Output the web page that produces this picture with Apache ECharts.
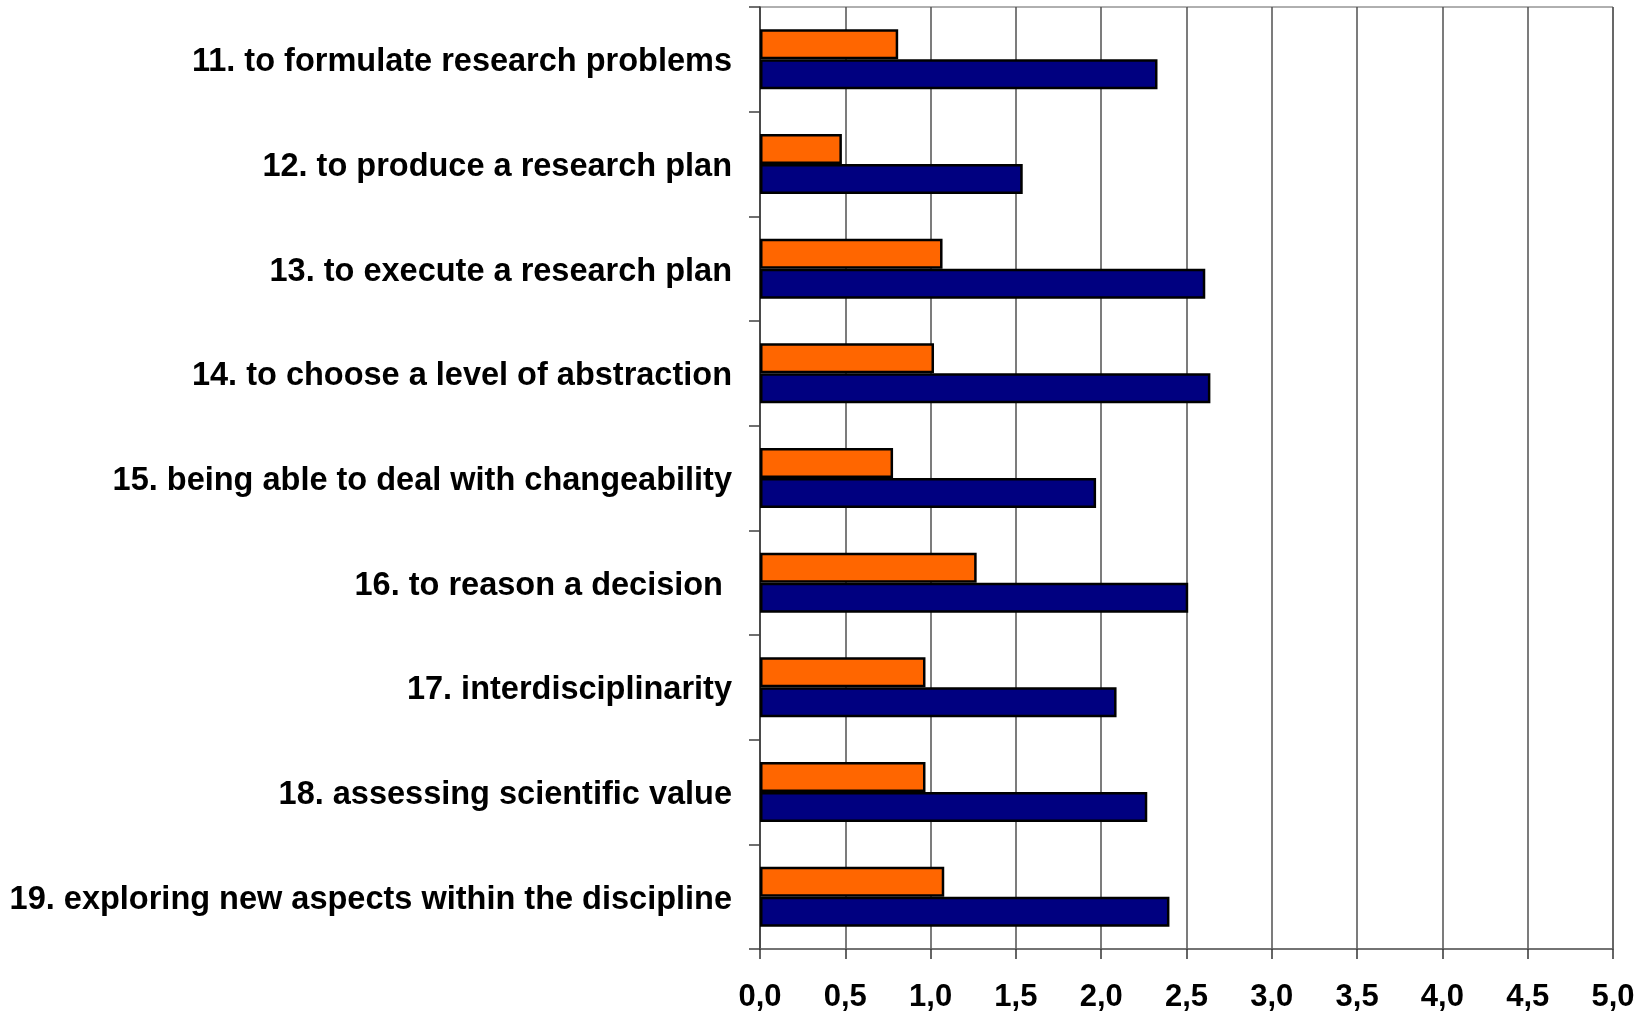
<!DOCTYPE html>
<html>
<head>
<meta charset="utf-8">
<title>Research skills</title>
<script src="https://cdn.jsdelivr.net/npm/echarts@6/dist/echarts.min.js"></script>
<style>
  html, body { margin: 0; padding: 0; background: #ffffff; }
  #chart { width: 1643px; height: 1013px; }
</style>
</head>
<body>
<div id="chart"></div>
<script>
// Skill items, listed top to bottom
const categories = [
  '11. to formulate research problems',
  '12. to produce a research plan',
  '13. to execute a research plan',
  '14. to choose a level of abstraction',
  '15. being able to deal with changeability',
  '16. to reason a decision ',
  '17. interdisciplinarity',
  '18. assessing scientific value',
  '19. exploring new aspects within the discipline'
];

// Upper (orange) bar of each pair
const orangeValues = [0.81, 0.48, 1.07, 1.02, 0.78, 1.27, 0.97, 0.97, 1.08];

// Lower (navy) bar of each pair
const navyValues = [2.33, 1.54, 2.61, 2.64, 1.97, 2.51, 2.09, 2.27, 2.40];

// Value axis ticks
const tickValues = [0, 0.5, 1, 1.5, 2, 2.5, 3, 3.5, 4, 4.5, 5];

const FONT = '"Liberation Sans", Arial, Helvetica, sans-serif';
const chart = echarts.init(document.getElementById('chart'), null, { renderer: 'canvas' });

chart.setOption({
  backgroundColor: '#ffffff',
  animation: false,
  grid: {
    left: 760,
    right: 30,
    top: 7,
    bottom: 64,
    show: true,
    borderColor: '#606060',
    borderWidth: 1,
    containLabel: false
  },
  xAxis: {
    type: 'value',
    min: tickValues[0],
    max: tickValues[tickValues.length - 1],
    interval: 0.5,
    axisLine: { show: true, lineStyle: { color: '#606060', width: 1.5 } },
    axisTick: { show: true, length: 10, lineStyle: { color: '#333333', width: 1.5 } },
    splitLine: { show: true, lineStyle: { color: '#505050', width: 1.5 } },
    axisLabel: {
      margin: 33,
      color: '#000000',
      fontFamily: FONT,
      fontWeight: 'bold',
      fontSize: 31,
      formatter: function (v) { return v.toFixed(1).replace('.', ','); }
    }
  },
  yAxis: {
    type: 'category',
    data: categories,
    inverse: true,
    axisLine: { show: true, lineStyle: { color: '#404040', width: 1.5 } },
    axisTick: { show: true, length: 11, inside: false, lineStyle: { color: '#404040', width: 1.5 } },
    splitLine: { show: false },
    axisLabel: {
      margin: 28,
      color: '#000000',
      fontFamily: FONT,
      fontWeight: 'bold',
      fontSize: 32.5,
      formatter: function (name) { return '{t|' + name + '}'; },
      rich: {
        t: {
          color: '#000000',
          fontFamily: FONT,
          fontWeight: 'bold',
          fontSize: 32.5,
          padding: [6, 0, 0, 0]
        }
      }
    }
  },
  series: [
    {
      type: 'bar',
      data: orangeValues,
      barWidth: 30,
      barGap: '0%',
      itemStyle: { color: '#FF6600', borderColor: '#000000', borderWidth: 2.5 }
    },
    {
      type: 'bar',
      data: navyValues,
      barWidth: 30,
      barGap: '0%',
      itemStyle: { color: '#000080', borderColor: '#000000', borderWidth: 2.5 }
    }
  ]
});
</script>
</body>
</html>
